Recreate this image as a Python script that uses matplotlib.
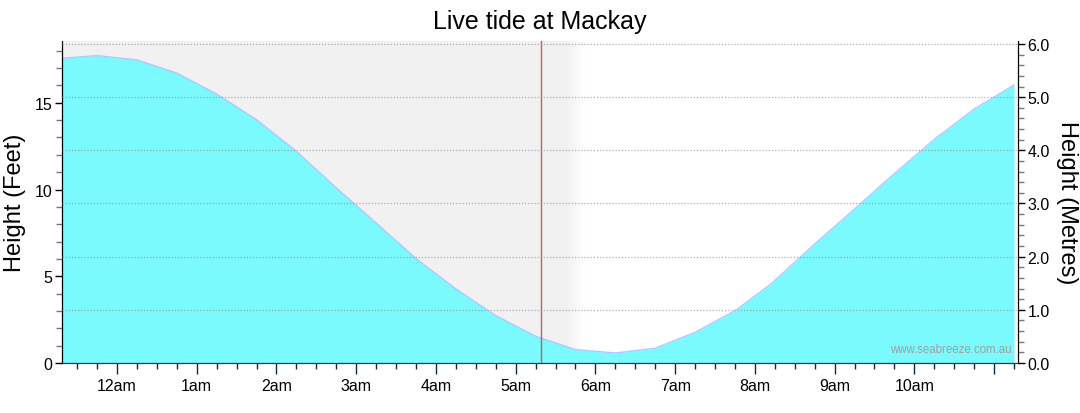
import numpy as np
import matplotlib
matplotlib.use("Agg")
import matplotlib.pyplot as plt
from matplotlib.ticker import MultipleLocator, FixedLocator, FixedFormatter, FormatStrFormatter
from matplotlib.colors import LinearSegmentedColormap

plt.rcParams["font.family"] = ["Liberation Sans", "DejaVu Sans"]

# 潮汐数据（每30分钟一个点，单位：英尺）
times = ["23:15", "23:45", "00:15", "00:45", "01:15", "01:45", "02:15", "02:45",
         "03:15", "03:45", "04:15", "04:45", "05:15", "05:45", "06:15", "06:45",
         "07:15", "07:45", "08:12", "08:45", "09:15", "09:45", "10:15", "10:45",
         "11:15"]
height_ft = [17.54, 17.72, 17.47, 16.71, 15.50, 14.02, 12.20, 10.09,
             8.07, 6.02, 4.27, 2.73, 1.54, 0.77, 0.58, 0.85,
             1.77, 3.01, 4.55, 6.86, 8.88, 10.92, 12.89, 14.64,
             16.02]

hour_labels = ["12am", "1am", "2am", "3am", "4am", "5am", "6am",
               "7am", "8am", "9am", "10am", ""]
now_time = "05:19"
night_end = "05:38"
dawn_end = "05:53"


def to_hours(s):
    h, m = map(int, s.split(":"))
    v = h + m / 60
    return v - 24 if v > 12 else v


x = np.array([to_hours(t) for t in times])
y = np.array(height_ft)

x0, x1 = -0.69, 11.30

fig = plt.figure(figsize=(10.8, 4.14), dpi=100)
ax = fig.add_axes([62 / 1080, 1 - 364 / 414, (1018 - 62) / 1080, (364 - 42) / 414])
ax2 = ax.twinx()

# 夜间阴影 + 渐变
ax.axvspan(x0, to_hours(night_end), color="#f1f1f1", lw=0, zorder=0)
grad = np.linspace(0, 1, 64).reshape(1, -1)
ax.imshow(grad, extent=[to_hours(night_end), to_hours(dawn_end), 0, 20],
          cmap=LinearSegmentedColormap.from_list("g", ["#f1f1f1", "#ffffff"]),
          aspect="auto", zorder=0.5)

ax.fill_between(x, y, 0, color="#7afafc", lw=0, zorder=2)
ax.plot(x, y, color="#b0c8ff", lw=1, zorder=2.5)
ax.axvline(to_hours(now_time), color="#c06060", lw=1, zorder=3)

ax.set_xlim(x0, x1)
ax.set_ylim(0, 18.56)
ax2.set_ylim(0, 6.056)

# 网格（米）
for g in range(1, 7):
    ax2.axhline(g, color="#999999", lw=0.9, ls=(0, (1, 1.5)), alpha=0.8, zorder=5)

# x 轴刻度
ax.xaxis.set_major_locator(FixedLocator(range(0, 12)))
ax.xaxis.set_major_formatter(FixedFormatter(hour_labels))
ax.xaxis.set_minor_locator(MultipleLocator(0.25))
ax.tick_params(axis="x", which="major", length=8, width=1, color="#102a40",
               labelsize=11.5, pad=3)
ax.tick_params(axis="x", which="minor", length=4, width=1, color="#102a40")

# 左 y 轴（英尺）
ax.yaxis.set_major_locator(MultipleLocator(5))
ax.yaxis.set_minor_locator(MultipleLocator(1))
ax.tick_params(axis="y", which="major", length=5, width=1, labelsize=11.5, pad=2)
ax.tick_params(axis="y", which="minor", length=4, width=1, color="#777777")

# 右 y 轴（米）
ax2.yaxis.set_major_locator(MultipleLocator(1))
ax2.yaxis.set_minor_locator(MultipleLocator(0.2))
ax2.yaxis.set_major_formatter(FormatStrFormatter("%.1f"))
ax2.tick_params(axis="y", which="major", length=5, width=1, labelsize=11.5, pad=2)
ax2.tick_params(axis="y", which="minor", length=4, width=1, color="#777777")

for a in (ax, ax2):
    a.spines["top"].set_visible(False)
    a.spines["bottom"].set_color("#1a3d5c")
    a.spines["left"].set_color("black")
    a.spines["right"].set_color("black")

ax.set_ylabel("Height (Feet)", fontsize=17, labelpad=6)
ax2.set_ylabel("Height (Metres)", fontsize=17, rotation=270, labelpad=20)
fig.suptitle("Live tide at Mackay", fontsize=18, y=0.975)

ax.text(0.993, 0.025, "www.seabreeze.com.au", transform=ax.transAxes,
        ha="right", va="bottom", fontsize=8.3, color="#a0a0a0", zorder=6)

fig.savefig("out.png", dpi=100)
